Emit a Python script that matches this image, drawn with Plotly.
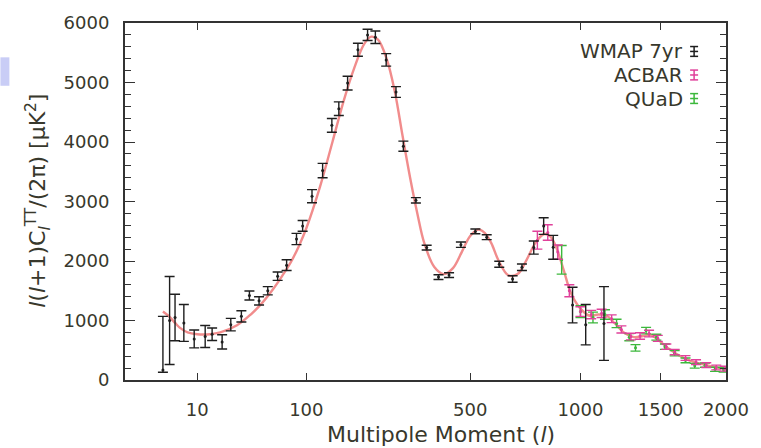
import numpy as np
import plotly.graph_objects as go

# ---------------- data ----------------
# WMAP 7yr binned TT spectrum: multipole, D_l, upper error, lower error
wmap_l = [2, 3, 4, 6, 9, 13, 16, 21, 26, 33, 39, 47, 55, 65, 75, 87, 95, 108, 124,
          139, 151, 167, 187, 207, 224, 249, 273, 292, 326, 357, 393, 427, 467, 519,
          562, 612, 668, 709, 763, 810, 857, 957, 1029, 1134]
wmap_d = [170, 1000, 1050, 960, 690, 730, 770, 640, 930, 1070, 1420, 1330, 1500, 1745,
          1930, 2370, 2590, 3090, 3520, 4280, 4560, 4990, 5550, 5800, 5760, 5380, 4840,
          3930, 3020, 2225, 1730, 1763, 2274, 2497, 2400, 1945, 1697, 1895, 2225, 2587,
          2230, 1260, 930, 950]
wmap_up = [900, 740, 390, 310, 150, 185, 105, 120, 105, 95, 75, 70, 70, 70, 90, 95, 90,
           110, 120, 115, 115, 115, 110, 95, 105, 105, 90, 85, 45, 40, 40, 40, 45, 40,
           40, 50, 55, 55, 110, 140, 200, 300, 340, 620]
wmap_dn = [40, 740, 390, 310, 150, 185, 105, 120, 105, 95, 75, 70, 70, 70, 90, 95, 90,
           110, 120, 115, 115, 115, 110, 95, 105, 105, 90, 85, 45, 40, 40, 40, 45, 40,
           40, 50, 55, 55, 110, 140, 200, 300, 340, 620]

# ACBAR
acbar_l = [780, 830, 880, 940, 1000, 1060, 1120, 1180, 1240, 1300, 1360, 1420, 1480,
           1540, 1600, 1680, 1760, 1840, 1920, 1990]
acbar_d = [2350, 2480, 2150, 1500, 1150, 1100, 1120, 1030, 850, 730, 740, 780, 700,
           560, 470, 370, 300, 250, 210, 190]
acbar_e = [150, 130, 120, 100, 80, 70, 70, 65, 60, 55, 55, 55, 50, 45, 45, 40, 40, 40,
           40, 40]

# QUaD
quad_l = [900, 1000, 1070, 1140, 1210, 1290, 1330, 1400, 1470, 1530, 1600, 1680, 1750,
          1830, 1910, 1980]
quad_d = [2020, 1150, 1050, 1100, 950, 720, 540, 830, 720, 560, 450, 330, 240, 250,
          180, 170]
quad_e = [240, 100, 90, 80, 70, 60, 55, 55, 50, 45, 45, 40, 40, 35, 35, 35]

# best-fit model curve
model_l = [2, 3, 4, 5, 7, 10, 15, 20, 30, 40, 50, 60, 70, 80, 90, 100, 120, 140, 160,
           180, 200, 215, 230, 250, 270, 290, 310, 330, 350, 380, 410, 440, 470, 500,
           530, 555, 580, 610, 650, 690, 730, 770, 810, 840, 870, 910, 950, 1000, 1050,
           1100, 1150, 1200, 1260, 1320, 1380, 1430, 1480, 1550, 1620, 1700, 1800, 1900,
           2000]
model_d = [1150, 1060, 960, 880, 800, 770, 770, 800, 920, 1100, 1300, 1520, 1750, 1980,
           2250, 2550, 3250, 4000, 4700, 5250, 5650, 5770, 5720, 5400, 4850, 4100, 3400,
           2800, 2300, 1900, 1780, 1880, 2150, 2420, 2530, 2470, 2300, 2000, 1760, 1780,
           2020, 2300, 2450, 2420, 2250, 1850, 1450, 1200, 1080, 1100, 1080, 950, 790,
           720, 740, 760, 680, 540, 430, 340, 270, 220, 180]

x_tick_vals = [10, 100, 500, 1000, 1500, 2000]
x_tick_text = ["10", "100", "500", "1000", "1500", "2000"]
legend_names = ["WMAP 7yr", "ACBAR", "QUaD"]

# ---------------- styling ----------------
POW = 0.4          # the horizontal axis is uniform in l**0.4


def tr(v):
    return np.asarray(v, dtype=float) ** POW


TXT = "#38382c"
FONT = "DejaVu Sans"
C_WMAP = "#1e1e1e"
C_ACBAR = "#e0409a"
C_QUAD = "#3cb83c"
C_MODEL = "#f08080"

fig = go.Figure()

fig.add_trace(go.Scatter(x=tr(model_l), y=model_d, mode="lines",
                         line=dict(color=C_MODEL, width=2.4, shape="spline"),
                         opacity=0.9, showlegend=False, hoverinfo="skip"))

fig.add_trace(go.Scatter(x=tr(quad_l), y=quad_d, mode="markers",
                         marker=dict(color=C_QUAD, size=3),
                         error_y=dict(type="data", array=quad_e, color=C_QUAD,
                                      thickness=1.4, width=5),
                         showlegend=False))

fig.add_trace(go.Scatter(x=tr(acbar_l), y=acbar_d, mode="markers",
                         marker=dict(color=C_ACBAR, size=3),
                         error_y=dict(type="data", array=acbar_e, color=C_ACBAR,
                                      thickness=1.4, width=5),
                         showlegend=False))

fig.add_trace(go.Scatter(x=tr(wmap_l), y=wmap_d, mode="markers",
                         marker=dict(color=C_WMAP, size=3),
                         error_y=dict(type="data", symmetric=False, array=wmap_up,
                                      arrayminus=wmap_dn, color=C_WMAP,
                                      thickness=1.4, width=5),
                         showlegend=False))

# plot area in pixels: x 125..728, y 16..380
L, R, T, B = 125, 728, 16, 380
W, H = 761, 448


def px(x):
    return (x - L) / (R - L)


def py(y):
    return (B - y) / (B - T)


annotations = []
shapes = []
# legend drawn in the upper right, text then error-bar glyph
leg_cols = [C_WMAP, C_ACBAR, C_QUAD]
for i, (name, col) in enumerate(zip(legend_names, leg_cols)):
    yy = 45 + i * 24
    annotations.append(dict(x=px(687), y=py(yy), xref="paper", yref="paper",
                            text=name, showarrow=False, xanchor="right",
                            yanchor="middle", font=dict(size=20, color=TXT, family=FONT)))
    shapes.append(dict(type="line", xref="paper", yref="paper",
                       x0=px(696), x1=px(696), y0=py(yy - 5), y1=py(yy + 5),
                       line=dict(color=col, width=1.5)))
    for dy in (-5, 5, 0):
        shapes.append(dict(type="line", xref="paper", yref="paper",
                           x0=px(692), x1=px(700), y0=py(yy + dy), y1=py(yy + dy),
                           line=dict(color=col, width=1.5)))

# axis titles
annotations.append(dict(x=px(442), y=py(436), xref="paper", yref="paper",
                        text="Multipole Moment (<i>l</i>)", showarrow=False,
                        xanchor="center", yanchor="middle",
                        font=dict(size=22, color=TXT, family=FONT)))
annotations.append(dict(x=px(37), y=py(197), xref="paper", yref="paper",
                        text="<i>l</i>(<i>l</i>+1)C<sub><i>l</i></sub><sup>TT</sup>/(2π) [μK<sup>2</sup>]",
                        showarrow=False, textangle=-90, xanchor="center", yanchor="middle",
                        font=dict(size=22, color=TXT, family=FONT)))

# small bluish smudge at the left edge of the picture
shapes.append(dict(type="rect", xref="paper", yref="paper", layer="below",
                   x0=px(0), x1=px(9), y0=py(80), y1=py(51),
                   fillcolor="#c9cdf6", line=dict(width=0)))

fig.update_layout(
    width=W, height=H, autosize=False,
    margin=dict(l=L, r=W - R, t=T, b=H - B, pad=0),
    paper_bgcolor="white", plot_bgcolor="white",
    font=dict(family=FONT, size=18, color=TXT),
    showlegend=False,
    annotations=annotations, shapes=shapes,
    xaxis=dict(range=[0, float(tr(2000))], tickvals=tr(x_tick_vals),
               ticktext=x_tick_text, ticks="inside", ticklen=7, tickwidth=1.2,
               tickcolor="#333", showline=True, linecolor="#333", linewidth=2,
               mirror="allticks", showgrid=False, zeroline=False,
               ticklabelstandoff=12, tickfont=dict(size=18, color=TXT, family=FONT)),
    yaxis=dict(range=[0, 6000], dtick=1000, ticks="inside", ticklen=10, tickwidth=1.2,
               tickcolor="#333", showline=True, linecolor="#333", linewidth=2,
               mirror="allticks", showgrid=False, zeroline=False,
               minor=dict(dtick=200, ticks="inside", ticklen=6, tickcolor="#333",
                          showgrid=False),
               ticklabelstandoff=10, tickfont=dict(size=18, color=TXT, family=FONT)),
)

fig.write_html("out.html")
